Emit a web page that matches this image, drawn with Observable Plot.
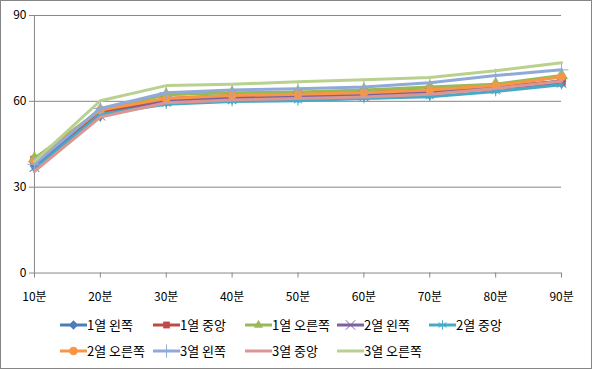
<!DOCTYPE html>
<html><head><meta charset="utf-8">
<script src="https://cdn.jsdelivr.net/npm/d3@7"></script>
<script src="https://cdn.jsdelivr.net/npm/@observablehq/plot@0.6"></script>
<style>
html,body{margin:0;padding:0;background:#fff;}
#wrap{position:relative;width:590px;height:367px;border:1px solid #868686;overflow:hidden;font-family:"Noto Sans CJK KR","Noto Sans",sans-serif;}
#chart{position:absolute;left:-1px;top:-1px;}
#legend{position:absolute;left:-1px;top:-1px;}
.li{position:absolute;font-size:13px;line-height:16px;color:#000;white-space:nowrap;}
</style></head>
<body><div id="wrap"><div id="chart"></div><div id="legend"></div></div>
<script>
const times = ["10분","20분","30분","40분","50분","60분","70분","80분","90분"];
const seriesNames = ["1열 왼쪽","1열 중앙","1열 오른쪽","2열 왼쪽","2열 중앙","2열 오른쪽","3열 왼쪽","3열 중앙","3열 오른쪽"];
const s1L = [37.5, 55.5, 60.5, 61.5, 62, 62.5, 63, 65, 67];
const s1C = [39.5, 56, 61, 62, 62.5, 63.3, 64, 65, 67];
const s1R = [40, 57, 62.3, 63, 63.3, 64, 65, 66, 69];
const s2L = [37, 55, 60, 61, 61.5, 62, 63, 64.5, 66.5];
const s2C = [36.5, 55.5, 59, 59.9, 60.2, 61, 61.6, 63.4, 65.8];
const s2R = [39, 57, 61, 62, 62.5, 63, 64, 65.5, 68.5];
const s3L = [38, 57.5, 63, 64, 64.4, 65, 66.5, 69, 71];
const s3C = [35.5, 54.5, 59.5, 60.5, 61, 61.5, 62.5, 64.5, 67];
const s3R = [39, 60.2, 65.5, 66, 66.8, 67.5, 68.3, 70.7, 73.5];
const yTicks = [0, 30, 60, 90];
const colors = ["#4A7EBB","#BE4B48","#98B954","#7D60A0","#46AAC5","#F79646","#8FA9D8","#D99694","#B9D18F"];
const symbols = ["diamond","square","triangle","times","asterisk","circle","plus",null,null];
const filled = [true,true,true,false,false,true,false,false,false];
const allValues = [s1L,s1C,s1R,s2L,s2C,s2R,s3L,s3C,s3R];

const rows = [];
allValues.forEach((vals,i)=>vals.forEach((v,j)=>rows.push({series:seriesNames[i], idx:i, t:times[j], v})));

const marks = [
  Plot.ruleY(yTicks.filter(d=>d>0), {stroke:"#868686", strokeWidth:1}),
  Plot.ruleX([times[0]], {y1:0, y2:90, stroke:"#868686"}),
  Plot.ruleY([0], {stroke:"#868686"}),
  Plot.axisY({ticks:yTicks, tickSize:5, tickPadding:3, stroke:"#868686", fontSize:12}),
  Plot.axisX({tickSize:5, tickPadding:14, stroke:"#868686", fontSize:12}),
];
seriesNames.forEach((name,i)=>{
  const d = rows.filter(r=>r.idx===i);
  marks.push(Plot.line(d, {x:"t", y:"v", stroke:colors[i], strokeWidth:3, strokeLinejoin:"round"}));
  if (symbols[i]) {
    marks.push(Plot.dot(d, {x:"t", y:"v", symbol:symbols[i], r: symbols[i]==="circle"?4:4.5,
      fill: filled[i]?colors[i]:"none", stroke:colors[i], strokeWidth: filled[i]?0.5:1}));
  }
});

const chart = Plot.plot({
  width:592, height:311,
  marginLeft:34, marginRight:30, marginTop:15, marginBottom:38,
  x:{type:"point", domain:times, padding:0, label:null},
  y:{domain:[0,90], label:null},
  style:{fontFamily:'"Noto Sans CJK KR","Noto Sans",sans-serif', fontSize:"12px", color:"#000", background:"transparent"},
  marks
});
d3.select(chart).selectAll("text").attr("fill","#000");
document.getElementById("chart").appendChild(chart);

// legend
const leg = document.getElementById("legend");
const colX = [60,153,245,337,429];
const rowY = [325,351];
seriesNames.forEach((name,i)=>{
  const r = Math.floor(i/5), c = i%5;
  const div = document.createElement("div");
  div.className = "li";
  div.style.left = colX[c]+"px";
  div.style.top = (rowY[r]-8)+"px";
  const svg = d3.create("svg").attr("width",27).attr("height",16).style("vertical-align","top").style("display","inline-block");
  svg.append("line").attr("x1",0).attr("x2",27).attr("y1",8).attr("y2",8).attr("stroke",colors[i]).attr("stroke-width",3);
  if (symbols[i]) {
    const symMap = {diamond:d3.symbolDiamond2, square:d3.symbolSquare2, triangle:d3.symbolTriangle2, times:d3.symbolTimes, asterisk:d3.symbolAsterisk, circle:d3.symbolCircle, plus:d3.symbolPlus};
    const filledSym = filled[i];
    svg.append("path").attr("d", d3.symbol(symMap[symbols[i]], filledSym?50:60)()).attr("transform","translate(13.5,8)")
      .attr("fill", filledSym?colors[i]:"none").attr("stroke", colors[i]).attr("stroke-width", filledSym?0.5:1);
  }
  div.appendChild(svg.node());
  const span = document.createElement("span");
  span.textContent = name;
  div.appendChild(span);
  leg.appendChild(div);
});
</script></body></html>
